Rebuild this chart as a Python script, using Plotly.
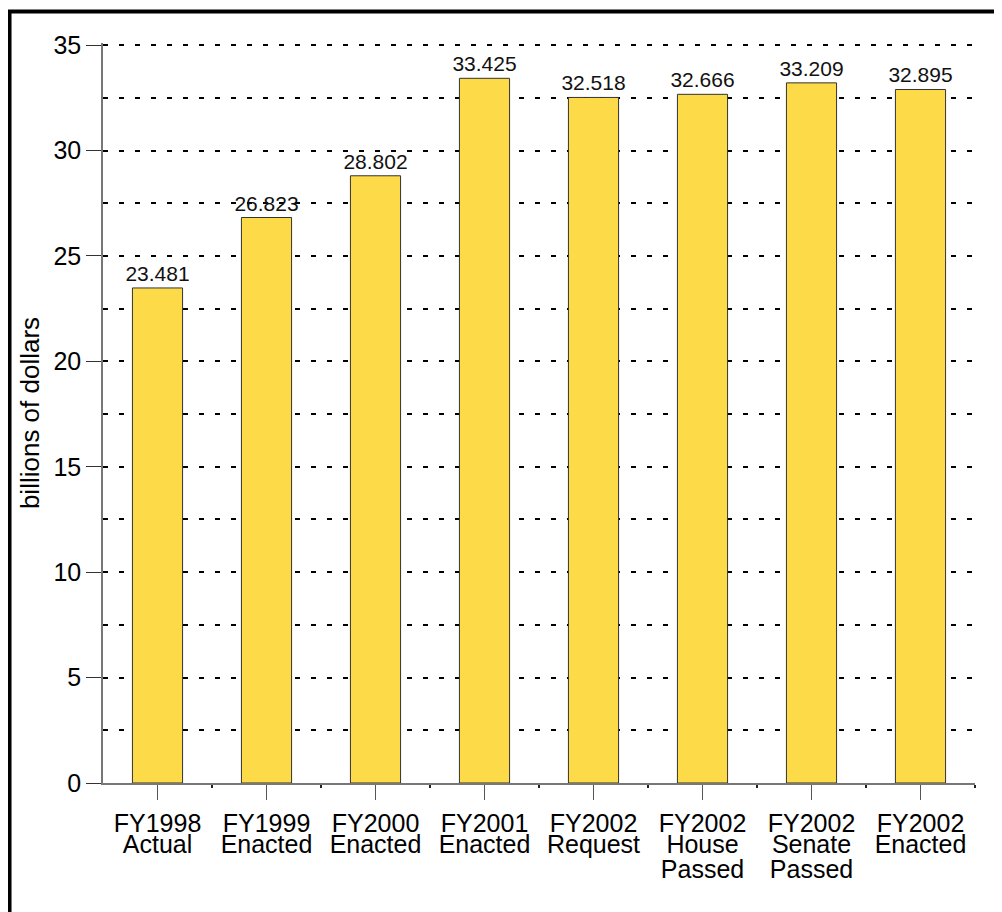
import plotly.graph_objects as go

# ---- data ----
categories = ["FY1998 Actual", "FY1999 Enacted", "FY2000 Enacted", "FY2001 Enacted",
              "FY2002 Request", "FY2002 House Passed", "FY2002 Senate Passed", "FY2002 Enacted"]
label_line1 = ["FY1998", "FY1999", "FY2000", "FY2001", "FY2002", "FY2002", "FY2002", "FY2002"]
label_line2 = ["Actual", "Enacted", "Enacted", "Enacted", "Request", "House", "Senate", "Enacted"]
label_line3 = ["", "", "", "", "", "Passed", "Passed", ""]
values = [23.481, 26.823, 28.802, 33.425, 32.518, 32.666, 33.209, 32.895]
y_ticks = [0, 5, 10, 15, 20, 25, 30, 35]

FONT = "Liberation Sans, Arial, sans-serif"
n = len(categories)
xpos = list(range(n))
xrange_ = [-0.5, n - 0.5]
boundaries = [i - 0.5 for i in range(1, n + 1)]

fig = go.Figure()
fig.add_trace(go.Bar(
    x=xpos, y=values, width=0.46,
    marker=dict(color="#FDDA48", line=dict(color="#333333", width=1)),
    text=[f"{v:.3f}" for v in values], textposition="outside",
    textfont=dict(family=FONT, size=21, color="#111111"),
    constraintext="none", cliponaxis=False,
    hovertext=categories, showlegend=False,
))

grid = dict(showgrid=True, gridcolor="#000000", gridwidth=2, griddash="5px,11px")

fig.update_layout(
    template="none",
    width=1002, height=912,
    margin=dict(l=95, r=35, t=35, b=137),
    paper_bgcolor="white", plot_bgcolor="white",
    font=dict(family=FONT, color="#000000"),
    xaxis=dict(
        range=xrange_, tickmode="array", tickvals=xpos, showticklabels=False,
        ticks="outside", ticklen=15, tickcolor="#555555", tickwidth=1,
        showline=True, linecolor="#777777", linewidth=1.5, showgrid=False, zeroline=False,
        automargin=False,
        minor=dict(tickmode="array", tickvals=boundaries, ticks="outside", ticklen=3,
                   tickcolor="#222222", tickwidth=1.5, showgrid=False),
    ),
    yaxis=dict(
        range=[0, 35.1], tickmode="array", tickvals=y_ticks,
        ticks="outside", ticklen=15, tickcolor="#333333", tickwidth=1,
        showline=True, linecolor="#777777", linewidth=1.5, zeroline=False,
        tickfont=dict(family=FONT, size=25, color="#000000"),
        title=dict(text="billions of dollars", font=dict(family=FONT, size=26, color="#000000"),
                   standoff=6),
        automargin=False,
        minor=dict(dtick=2.5, ticks="", **grid),
        **grid,
    ),
)

for idx, (lines, standoff) in enumerate([(label_line1, 23), (label_line2, 44), (label_line3, 69)], start=2):
    fig.add_trace(go.Scatter(x=xpos, y=values, xaxis=f"x{idx}", mode="markers",
                             marker=dict(opacity=0), hoverinfo="skip", showlegend=False))
    fig.update_layout(**{f"xaxis{idx}": dict(
        overlaying="x", anchor="y", side="bottom", range=xrange_,
        tickmode="array", tickvals=xpos, ticktext=lines, ticks="",
        ticklabelstandoff=standoff, showline=False, showgrid=False, zeroline=False,
        tickfont=dict(family=FONT, size=25, color="#000000"), automargin=False,
    )})

# outer frame of the original figure
fig.add_shape(type="rect", xref="paper", yref="paper",
              x0=-0.1072, x1=1.5, y0=-1.0, y1=1.0426,
              line=dict(color="#000000", width=4), fillcolor="rgba(0,0,0,0)", layer="above")

fig.write_html("out.html")
